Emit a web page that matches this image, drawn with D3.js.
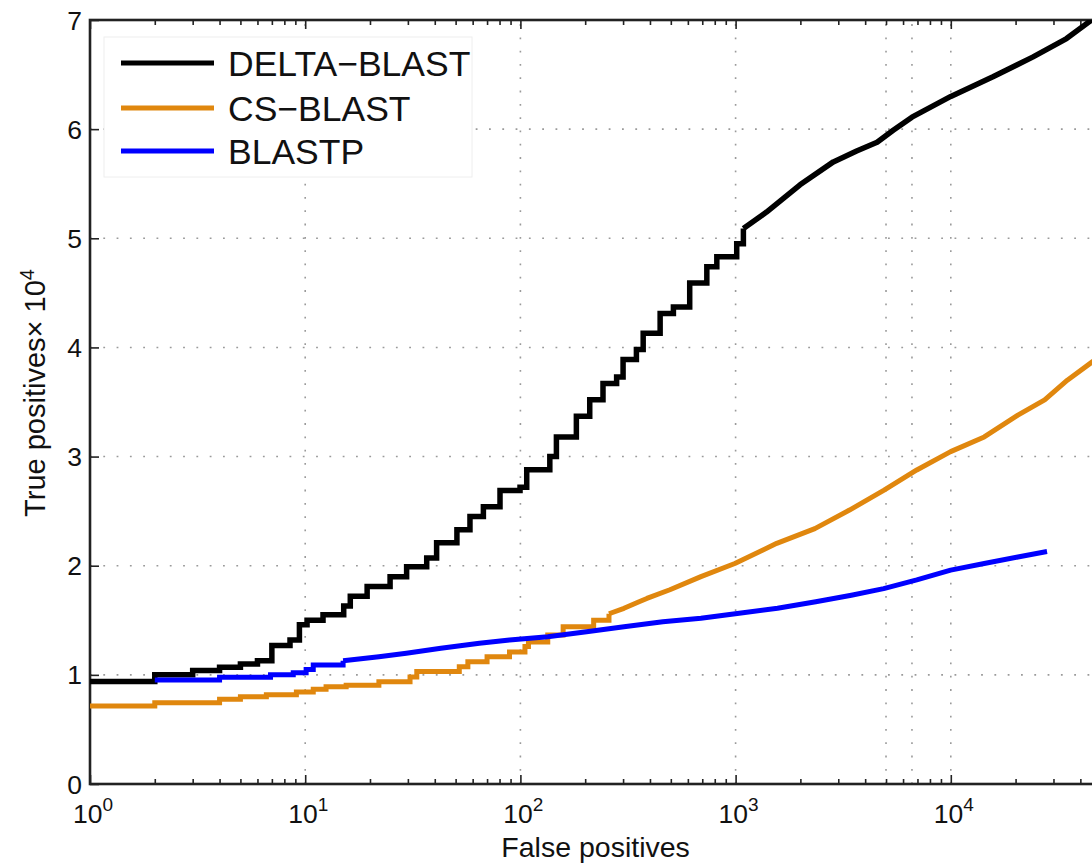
<!DOCTYPE html>
<html>
<head>
<meta charset="utf-8">
<script src="https://cdn.jsdelivr.net/npm/d3@7"></script>
<style>
  html, body { margin: 0; padding: 0; background: #fff; }
  svg { display: block; font-family: "Liberation Sans", Arial, Helvetica, sans-serif; }
</style>
</head>
<body>
<svg id="chart" width="1092" height="868"></svg>
<script>
// ROC-style comparison: true positives (x 10^4) against false positives (log scale)
const seriesNames = ["DELTA\u2212BLAST", "CS\u2212BLAST", "BLASTP"];
const seriesColors = ["#000000", "#E0870E", "#0000FF"];

// DELTA-BLAST
const deltaFP = [1, 2, 3, 4, 5, 6, 7, 8.5, 9.4, 10.2, 12.1, 15.1, 16.2, 19.4, 24.8, 29.6, 36.7, 40.8, 50.7, 58.3,
  67.3, 80.4, 99.6, 107, 137, 147, 182, 210, 242, 280, 300, 346, 372, 446, 514, 612, 735, 818, 1012, 1087,
  1392, 1992, 2845, 3650, 4545, 5400, 6600, 10000, 15700, 24000, 34500, 44400, 50000];
const deltaTP = [0.94, 1.00, 1.04, 1.07, 1.10, 1.13, 1.27, 1.32, 1.46, 1.50, 1.55, 1.63, 1.72, 1.81, 1.90, 1.99, 2.07, 2.21, 2.33, 2.45,
  2.54, 2.69, 2.72, 2.88, 3.00, 3.18, 3.37, 3.52, 3.67, 3.73, 3.89, 3.98, 4.13, 4.31, 4.37, 4.59, 4.74, 4.83, 4.95, 5.09,
  5.24, 5.49, 5.70, 5.80, 5.88, 5.99, 6.11, 6.30, 6.48, 6.66, 6.83, 6.99, 7.04];

// CS-BLAST
const csFP = [1, 2, 4, 5, 6.6, 9.1, 10.9, 12.5, 15.5, 22, 30.7, 33, 52, 57, 70, 89, 105, 109, 134, 158,
  219, 258, 303, 356, 387, 495, 690, 992, 1553, 2335, 3383, 4876, 6950, 9983, 14300, 20500, 27300, 34800, 45600, 50000];
const csTP = [0.715, 0.745, 0.776, 0.80, 0.818, 0.843, 0.867, 0.89, 0.905, 0.937, 0.98, 1.03, 1.075, 1.12, 1.165, 1.21, 1.26, 1.30, 1.365, 1.44,
  1.50, 1.56, 1.61, 1.67, 1.70, 1.78, 1.90, 2.02, 2.205, 2.34, 2.51, 2.69, 2.877, 3.045, 3.18, 3.38, 3.52, 3.70, 3.87, 3.92];

// BLASTP
const blastpFP = [2, 4, 6.9, 8.8, 10.1, 10.9, 15, 22, 29.5, 42.7, 64.5, 89, 134, 203, 303, 459, 690, 1039, 1566, 2358,
  3450, 4876, 6950, 9983, 14300, 20500, 28000];
const blastpTP = [0.953, 0.978, 1.00, 1.02, 1.05, 1.09, 1.13, 1.166, 1.197, 1.243, 1.29, 1.32, 1.35, 1.395, 1.44, 1.487, 1.518, 1.564, 1.61, 1.67,
  1.73, 1.79, 1.87, 1.96, 2.02, 2.08, 2.13];

// above these FP values the counts are dense enough to be drawn as a continuous line
const stepLimits = [1087, 258, 15];

const yTicks = [0, 1, 2, 3, 4, 5, 6, 7];
const xDecades = [1, 10, 100, 1000, 10000];
const xDecadeExponents = ["0", "1", "2", "3", "4"];
const extraGridFP = [5000, 6600];

const xTitle = "False positives";
const yTitle = "True positives";

(function draw() {
  const svg = d3.select("#chart");
  const pLeft = 90, pTop = 20, pBottom = 784;
  const x = d3.scaleLog().domain([1, 5e4]).range([pLeft, pLeft + 215.2 * Math.log10(5e4)]);
  const y = d3.scaleLinear().domain([0, 7]).range([pBottom, pTop]);
  const pRight = x.range()[1];

  svg.append("rect").attr("width", 1092).attr("height", 868).attr("fill", "#fff");

  svg.append("defs").append("clipPath").attr("id", "plotClip")
    .append("rect").attr("x", pLeft).attr("y", pTop).attr("width", pRight - pLeft).attr("height", pBottom - pTop);

  // dotted grid
  const grid = svg.append("g").attr("stroke", "#9a9a9a").attr("stroke-width", 1.6)
    .attr("stroke-dasharray", "1.8,11.5").attr("fill", "none");
  grid.selectAll("line.h").data(yTicks.filter(v => v > 0 && v < 7)).join("line").attr("class", "h")
    .attr("x1", pLeft).attr("x2", pRight).attr("y1", d => y(d)).attr("y2", d => y(d));
  grid.selectAll("line.v").data(xDecades.slice(1).concat(extraGridFP)).join("line").attr("class", "v")
    .attr("x1", d => x(d)).attr("x2", d => x(d)).attr("y1", pBottom).attr("y2", pTop);

  // minor tick values 2..9 per decade
  const minorTicks = [];
  for (let e = 0; e <= 4; e++) {
    for (let m = 2; m <= 9; m++) {
      const v = m * Math.pow(10, e);
      if (v < 5e4) minorTicks.push(v);
    }
  }

  const axisColor = "#222";
  function styleAxis(g) {
    g.select(".domain").remove();
    g.selectAll(".tick line").attr("stroke", axisColor).attr("stroke-width", 1.6);
    g.selectAll(".tick text").remove();
  }
  svg.append("g").attr("transform", `translate(0,${pBottom})`)
    .call(d3.axisBottom(x).tickValues(xDecades).tickSize(-9)).call(styleAxis);
  svg.append("g").attr("transform", `translate(0,${pBottom})`)
    .call(d3.axisBottom(x).tickValues(minorTicks).tickSize(-5)).call(styleAxis);
  svg.append("g").attr("transform", `translate(0,${pTop})`)
    .call(d3.axisTop(x).tickValues(xDecades).tickSize(-9)).call(styleAxis);
  svg.append("g").attr("transform", `translate(0,${pTop})`)
    .call(d3.axisTop(x).tickValues(minorTicks).tickSize(-5)).call(styleAxis);
  svg.append("g").attr("transform", `translate(${pLeft},0)`)
    .call(d3.axisLeft(y).tickValues(yTicks).tickSize(-9)).call(styleAxis);
  svg.append("g").attr("transform", `translate(${pRight},0)`)
    .call(d3.axisRight(y).tickValues(yTicks).tickSize(-9)).call(styleAxis);

  // axes box
  svg.append("rect").attr("x", pLeft).attr("y", pTop).attr("width", pRight - pLeft).attr("height", pBottom - pTop)
    .attr("fill", "none").attr("stroke", axisColor).attr("stroke-width", 2.6);

  // curves
  const series = [
    { fp: deltaFP, tp: deltaTP },
    { fp: csFP, tp: csTP },
    { fp: blastpFP, tp: blastpTP }
  ];
  const curves = svg.append("g").attr("clip-path", "url(#plotClip)");
  const stepLine = d3.line().x(d => x(d[0])).y(d => y(d[1])).curve(d3.curveStepAfter);
  const smoothLine = d3.line().x(d => x(d[0])).y(d => y(d[1]));
  series.forEach((s, i) => {
    const pts = s.fp.map((f, j) => [f, s.tp[j]]);
    const lim = stepLimits[i];
    const stepPts = pts.filter(p => p[0] <= lim);
    const contPts = pts.filter(p => p[0] >= stepPts[stepPts.length - 1][0]);
    const g = curves.append("g").attr("fill", "none").attr("stroke", seriesColors[i])
      .attr("stroke-width", i === 0 ? 5.5 : 5).attr("stroke-linejoin", "miter");
    g.append("path").attr("d", stepLine(stepPts));
    g.append("path").attr("d", smoothLine(contPts)).attr("stroke-linejoin", "round");
  });

  // x tick labels 10^n
  const xl = svg.append("g").attr("fill", "#111");
  xDecades.forEach((d, i) => {
    const t = xl.append("text").attr("x", x(d) + 3).attr("y", 823)
      .attr("text-anchor", "middle").attr("font-size", 26.5);
    t.append("tspan").text("10");
    t.append("tspan").attr("dy", -12).attr("font-size", 19).text(xDecadeExponents[i]);
  });

  // y tick labels
  svg.append("g").attr("fill", "#111").selectAll("text").data(yTicks).join("text")
    .attr("x", 82).attr("y", d => y(d) + 9.5).attr("text-anchor", "end").attr("font-size", 26.5)
    .text(d => d);

  // axis titles
  svg.append("text").attr("x", (pLeft + pRight) / 2).attr("y", 857).attr("text-anchor", "middle")
    .attr("font-size", 28.5).attr("fill", "#111").text(xTitle);

  const yt = svg.append("text").attr("transform", "translate(45,393) rotate(-90)")
    .attr("text-anchor", "middle").attr("font-size", 29).attr("fill", "#111");
  yt.append("tspan").text(yTitle + "\u00D7 10");
  yt.append("tspan").attr("dy", -11).attr("font-size", 20).text("4");

  // legend
  const lg = svg.append("g");
  lg.append("rect").attr("x", 104).attr("y", 37).attr("width", 368).attr("height", 140)
    .attr("fill", "#fff").attr("stroke", "#eeeeee").attr("stroke-width", 1);
  const legendRows = [63, 108, 151];
  seriesNames.forEach((name, i) => {
    lg.append("line").attr("x1", 121).attr("x2", 214).attr("y1", legendRows[i]).attr("y2", legendRows[i])
      .attr("stroke", seriesColors[i]).attr("stroke-width", 5);
    lg.append("text").attr("x", 228).attr("y", legendRows[i] + 12.5).attr("font-size", 35.5)
      .attr("fill", "#111").text(name);
  });
})();
</script>
</body>
</html>
